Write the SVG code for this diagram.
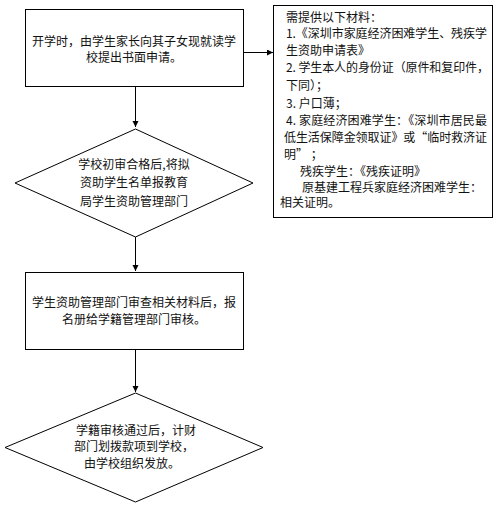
<svg xmlns="http://www.w3.org/2000/svg" width="499" height="509" viewBox="0 0 499 509">
<defs>
<style>
.shape{fill:#fff;stroke:#000;stroke-width:1}
.t{font-family:"Noto Sans CJK SC","Noto Sans",sans-serif;font-size:12px;fill:#111}
.c{text-anchor:middle}
.edge{stroke:#000;stroke-width:1;fill:none}
</style>
<marker id="arr" markerUnits="userSpaceOnUse" markerWidth="7" markerHeight="7" refX="6" refY="3" orient="auto">
<path d="M0,0 L6,3 L0,6 z" fill="#000"/>
</marker>
</defs>
<rect width="499" height="509" fill="#fff"/>
<g id="connectors">
<line class="edge" x1="243" y1="52.5" x2="273" y2="52.5" marker-end="url(#arr)"/>
<line class="edge" x1="135.5" y1="86" x2="135.5" y2="127" marker-end="url(#arr)"/>
<line class="edge" x1="135.5" y1="237" x2="135.5" y2="271" marker-end="url(#arr)"/>
<line class="edge" x1="135.5" y1="350" x2="135.5" y2="392" marker-end="url(#arr)"/>
</g>
<g id="node-apply">
<rect class="shape" x="25.5" y="9.5" width="218" height="77"/>
<text class="t c" x="134" y="46">开学时，由学生家长向其子女现就读学</text>
<text class="t c" x="134" y="62">校提出书面申请。</text>
</g>
<g id="node-materials">
<rect class="shape" x="273.5" y="5.5" width="219" height="212"/>
<text class="t" x="286" y="22">需提供以下材料：</text>
<text class="t" x="286" y="38" textLength="201" lengthAdjust="spacing">1.《深圳市家庭经济困难学生、残疾学</text>
<text class="t" x="286" y="55">生资助申请表》</text>
<text class="t" x="286" y="72" textLength="203" lengthAdjust="spacing">2. 学生本人的身份证（原件和复印件，</text>
<text class="t" x="286" y="90">下同）；</text>
<text class="t" x="286" y="108">3. 户口薄；</text>
<text class="t" x="286" y="125" textLength="201" lengthAdjust="spacing">4. 家庭经济困难学生：《深圳市居民最</text>
<text class="t" x="284" y="142" textLength="203" lengthAdjust="spacing">低生活保障金领取证》或“临时救济证</text>
<text class="t" x="284" y="159">明”   ；</text>
<text class="t" x="300" y="176">残疾学生：《残疾证明》</text>
<text class="t" x="302" y="192" textLength="180" lengthAdjust="spacing">原基建工程兵家庭经济困难学生：</text>
<text class="t" x="280" y="207">相关证明。</text>
</g>
<g id="node-school-review">
<polygon class="shape" points="135.5,129 253,183 135.5,237 15,183"/>
<text class="t c" x="134" y="169">学校初审合格后,将拟</text>
<text class="t c" x="134" y="187">资助学生名单报教育</text>
<text class="t c" x="134" y="206">局学生资助管理部门</text>
</g>
<g id="node-dept-review">
<rect class="shape" x="25.5" y="272.5" width="218" height="77"/>
<text class="t c" x="134" y="307">学生资助管理部门审查相关材料后，报</text>
<text class="t c" x="134" y="324">名册给学籍管理部门审核。</text>
</g>
<g id="node-payment">
<polygon class="shape" points="135.5,393 263,447.5 135.5,502 5,447.5"/>
<text class="t c" x="136" y="435">学籍审核通过后，计财</text>
<text class="t c" x="134" y="451">部门划拨款项到学校，</text>
<text class="t c" x="132" y="468">由学校组织发放。</text>
</g>
</svg>
